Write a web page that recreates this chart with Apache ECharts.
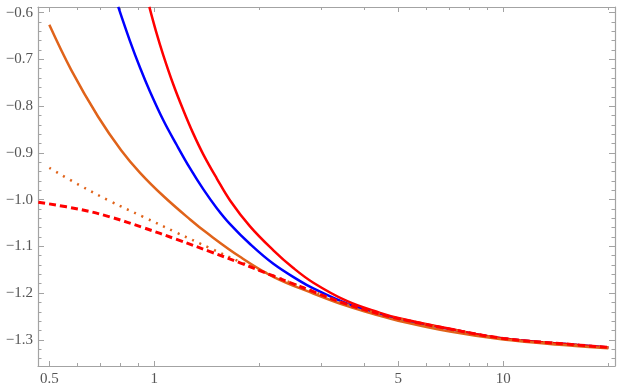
<!DOCTYPE html>
<html>
<head>
<meta charset="utf-8">
<script src="https://cdn.jsdelivr.net/npm/echarts@6/dist/echarts.min.js"></script>
<style>
html, body { margin: 0; padding: 0; background: #fff; }
#main { width: 623px; height: 391px; }
</style>
</head>
<body>
<div id="main"></div>
<script>
// --- data (x is plotted on a log10 scale) ---
var orangeX = [0.5, 0.578, 0.69, 0.804, 0.91, 1.061, 1.266, 1.413, 1.76, 2.193, 2.855, 3.559, 4.434, 5, 7.036, 10, 15.19, 20];
var orangeY = [-0.6262, -0.7231, -0.8228, -0.8949, -0.9427, -0.9924, -1.0426, -1.0712, -1.1224, -1.1651, -1.2009, -1.2274, -1.2487, -1.2592, -1.2825, -1.2995, -1.3117, -1.3179];

var blueX = [0.788, 0.852, 0.91, 0.972, 1.061, 1.159, 1.266, 1.382, 1.51, 1.648, 1.88, 2.193, 2.616, 2.855, 3.559, 4.434, 5, 7.036, 10, 15.19, 20];
var blueY = [-0.5878, -0.6615, -0.718, -0.7692, -0.8303, -0.8832, -0.9333, -0.9782, -1.0183, -1.0524, -1.0951, -1.1374, -1.1745, -1.1901, -1.2221, -1.2449, -1.2554, -1.2773, -1.2972, -1.3091, -1.3162];

var redX = [0.9675, 1.011, 1.061, 1.134, 1.209, 1.291, 1.382, 1.51, 1.648, 1.88, 2.193, 2.497, 2.855, 3.559, 4.434, 5, 7.036, 10, 15.19, 20];
var redY = [-0.5878, -0.6401, -0.6913, -0.7543, -0.8076, -0.8578, -0.9037, -0.9549, -1.0018, -1.0573, -1.1085, -1.1459, -1.1779, -1.2169, -1.2423, -1.2532, -1.2765, -1.297, -1.3091, -1.3162];

var dotX = [0.5, 0.611, 0.75, 0.93, 1.159, 1.444, 1.76, 2.193, 2.855, 3.559, 4.434, 5, 7.036, 10, 15.19, 20];
var dotY = [-0.932, -0.9694, -1.004, -1.037, -1.0708, -1.1038, -1.1331, -1.163, -1.196, -1.2238, -1.2451, -1.2547, -1.2771, -1.297, -1.3091, -1.3162];

var dashX = [0.465, 0.612, 0.746, 0.93, 1.159, 1.444, 1.76, 2.193, 2.855, 3.559, 4.434, 5, 7.036, 10, 15.19, 20];
var dashY = [-1.0055, -1.021, -1.037, -1.0601, -1.0851, -1.1113, -1.1352, -1.1634, -1.1971, -1.2238, -1.2451, -1.2547, -1.2771, -1.297, -1.3091, -1.3162];

// ticks
var xMajor = [0.5, 1, 5, 10];
var xMinor = [0.6, 0.7, 0.8, 0.9, 2, 3, 4, 6, 7, 8, 9, 20];
var yMajor = [-1.3, -1.2, -1.1, -1.0, -0.9, -0.8, -0.7, -0.6];
var yMinor = [-1.34, -1.32, -1.28, -1.26, -1.24, -1.22, -1.18, -1.16, -1.14, -1.12, -1.08, -1.06, -1.04, -1.02,
              -0.98, -0.96, -0.94, -0.92, -0.88, -0.86, -0.84, -0.82, -0.78, -0.76, -0.74, -0.72, -0.68, -0.66, -0.64, -0.62];

var xMin = Math.log10(0.464), xMax = Math.log10(20.9);
var yMin = -1.356, yMax = -0.588;

var frameColor = '#a3a3a3';
var labelFont = 'Liberation Serif';

function pts(xs, ys) {
	return xs.map(function (x, i) { return [Math.log10(x), ys[i]]; });
}
function lg(arr) {
	return arr.map(function (v) { return Math.log10(v); });
}

function xAx(pos, ticks, len, showLine, showLabel) {
	return {
		type: 'value', position: pos, min: xMin, max: xMax,
		axisLine: { show: showLine, onZero: false, lineStyle: { color: frameColor, width: 1.2 } },
		axisTick: { show: true, inside: true, length: len, customValues: lg(ticks), lineStyle: { color: frameColor } },
		axisLabel: {
			show: showLabel, customValues: lg(ticks), margin: 6,
			color: '#555', fontSize: 15, fontFamily: labelFont,
			formatter: function (v) { return String(parseFloat(Math.pow(10, v).toPrecision(3))); }
		},
		splitLine: { show: false }
	};
}
function yAx(pos, ticks, len, showLine, showLabel) {
	return {
		type: 'value', position: pos, min: yMin, max: yMax,
		axisLine: { show: showLine, onZero: false, lineStyle: { color: frameColor, width: 1.2 } },
		axisTick: { show: true, inside: true, length: len, customValues: ticks, lineStyle: { color: frameColor } },
		axisLabel: {
			show: showLabel, customValues: ticks, margin: 5,
			color: '#555', fontSize: 15, fontFamily: labelFont,
			formatter: function (v) { return '\u2212' + Math.abs(v).toFixed(1); }
		},
		splitLine: { show: false }
	};
}

function line(name, xs, ys, color, width, type) {
	return {
		name: name, type: 'line', xAxisIndex: 0, yAxisIndex: 0,
		data: pts(xs, ys), smooth: 0.4, symbol: 'none', clip: true,
		lineStyle: { color: color, width: width, type: type }
	};
}

var myChart = echarts.init(document.getElementById('main'));
myChart.setOption({
	animation: false,
	grid: { left: 38, top: 7, right: 8, bottom: 25, containLabel: false, outerBoundsMode: 'none' },
	xAxis: [
		xAx('bottom', xMajor, 5, true, true),
		xAx('bottom', xMinor, 3, false, false),
		xAx('top', xMajor, 5, true, false),
		xAx('top', xMinor, 3, false, false)
	],
	yAxis: [
		yAx('left', yMajor, 6, true, true),
		yAx('left', yMinor, 3.5, false, false),
		yAx('right', yMajor, 6, true, false),
		yAx('right', yMinor, 3.5, false, false)
	],
	series: [
		line('blue', blueX, blueY, '#0000ff', 2.5, 'solid'),
		line('red', redX, redY, '#ff0000', 2.5, 'solid'),
		line('orange', orangeX, orangeY, '#e0631a', 2.5, 'solid'),
		line('orangeDot', dotX, dotY, '#e0631a', 2.5, [2, 6]),
		line('redDash', dashX, dashY, '#ff0000', 3, [7, 4])
	]
});
</script>
</body>
</html>
